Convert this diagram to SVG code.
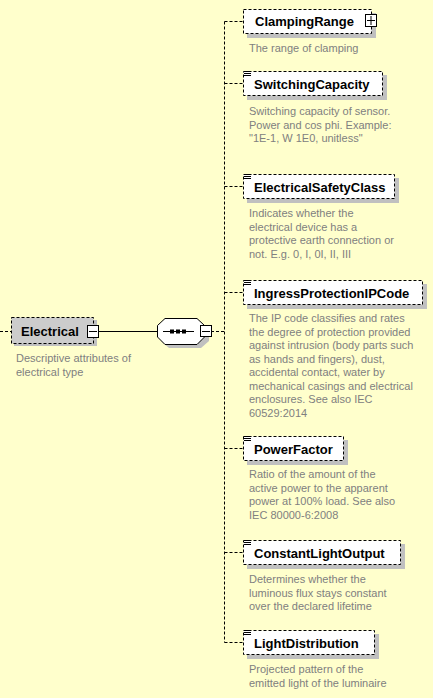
<svg xmlns="http://www.w3.org/2000/svg" width="433" height="698" viewBox="0 0 433 698">
<style>
.bg{fill:#FFFFCC}
.shadow{fill:#C0C0C0}
.box{fill:#FFFFFF;stroke:#000;stroke-width:1;stroke-dasharray:3,2}
.gbox{fill:#CCCCCC;stroke:#000;stroke-width:1;stroke-dasharray:3,2}
.name{font-family:"Liberation Sans",Arial,sans-serif;font-weight:bold;font-size:13px;fill:#000}
.desc{font-family:"Liberation Sans",Arial,sans-serif;font-size:11px;fill:#808080}
.dash{fill:none;stroke:#000;stroke-width:1;stroke-dasharray:3,2}
.solid{fill:none;stroke:#000;stroke-width:1}
.btn{fill:#FFFFFF;stroke:#000;stroke-width:1}
.icon{stroke:#000;stroke-width:1}
</style>
<defs>
<g id="ico"><path class="icon" d="M244 0.5h7M244 2.5h7M244 4.5h7"/></g>
</defs>
<rect class="bg" x="0" y="0" width="433" height="698"/>

<g id="connectors">
<path class="dash" d="M0 331.5H11"/>
<path class="solid" d="M99 331.5H157"/>
<path class="dash" d="M211 331.5H224.5"/>
<path class="dash" d="M224.5 21.5V642.5"/>
<path class="dash" d="M224.5 21.5H243M224.5 83.5H243M224.5 186.5H243M224.5 292.5H243M224.5 448.5H243M224.5 552.5H243M224.5 642.5H243"/>
</g>

<g id="Electrical">
<rect class="shadow" x="14" y="320" width="83" height="26"/>
<rect class="gbox" x="11.5" y="317.5" width="82" height="26"/>
<text class="name" x="21" y="336">Electrical</text>
<rect class="btn" x="87.5" y="325.5" width="11" height="12"/>
<path class="solid" d="M89 331.5H97"/>
<text class="desc" x="16" y="362">Descriptive attributes of</text>
<text class="desc" x="16" y="375.5">electrical type</text>
</g>

<g id="sequence">
<polygon class="shadow" points="169,322 201,322 209,330 209,341 201,348 169,348 161,341 161,330"/>
<polygon class="btn" points="165,318.5 197,318.5 204.5,325.5 204.5,337 197,344.5 165,344.5 157.5,337 157.5,325.5"/>
<path class="solid" d="M163 331.5H194"/>
<rect x="170" y="329.5" width="4" height="4" fill="#000"/>
<rect x="176" y="329.5" width="4" height="4" fill="#000"/>
<rect x="182" y="329.5" width="4" height="4" fill="#000"/>
<rect class="btn" x="200.5" y="325.5" width="11" height="11"/>
<path class="solid" d="M202 331.5H210"/>
</g>

<g id="ClampingRange">
<rect class="shadow" x="247" y="13" width="129" height="25"/>
<rect class="box" x="243.5" y="9.5" width="128" height="24"/>
<text class="name" x="255" y="26">ClampingRange</text>
<rect class="btn" x="365.5" y="14.5" width="11" height="12"/>
<path class="solid" d="M367 20.5H375M371 16V25"/>
<text class="desc" x="249" y="52">The range of clamping</text>
</g>

<g id="SwitchingCapacity">
<rect class="shadow" x="247" y="75" width="140" height="25"/>
<rect class="box" x="243.5" y="71.5" width="139" height="24"/>
<use href="#ico" y="71"/>
<text class="name" x="254" y="89">SwitchingCapacity</text>
<text class="desc" x="249" y="115">Switching capacity of sensor.</text>
<text class="desc" x="249" y="128.5">Power and cos phi. Example:</text>
<text class="desc" x="249" y="142">"1E-1, W 1E0, unitless"</text>
</g>

<g id="ElectricalSafetyClass">
<rect class="shadow" x="247" y="178" width="152" height="25"/>
<rect class="box" x="243.5" y="174.5" width="151" height="24"/>
<use href="#ico" y="174"/>
<text class="name" x="254" y="192">ElectricalSafetyClass</text>
<text class="desc" x="249" y="217">Indicates whether the</text>
<text class="desc" x="249" y="230.5">electrical device has a</text>
<text class="desc" x="249" y="244">protective earth connection or</text>
<text class="desc" x="249" y="257.5">not. E.g. 0, I, 0I, II, III</text>
</g>

<g id="IngressProtectionIPCode">
<rect class="shadow" x="247" y="284" width="180" height="25"/>
<rect class="box" x="243.5" y="280.5" width="179" height="24"/>
<use href="#ico" y="280"/>
<text class="name" x="254" y="298">IngressProtectionIPCode</text>
<text class="desc" x="249" y="322">The IP code classifies and rates</text>
<text class="desc" x="249" y="335.5">the degree of protection provided</text>
<text class="desc" x="249" y="349">against intrusion (body parts such</text>
<text class="desc" x="249" y="362.5">as hands and fingers), dust,</text>
<text class="desc" x="249" y="376">accidental contact, water by</text>
<text class="desc" x="249" y="389.5">mechanical casings and electrical</text>
<text class="desc" x="249" y="403">enclosures. See also IEC</text>
<text class="desc" x="249" y="416.5">60529:2014</text>
</g>

<g id="PowerFactor">
<rect class="shadow" x="247" y="440" width="101" height="25"/>
<rect class="box" x="243.5" y="436.5" width="100" height="24"/>
<use href="#ico" y="436"/>
<text class="name" x="254" y="454">PowerFactor</text>
<text class="desc" x="249" y="478">Ratio of the amount of the</text>
<text class="desc" x="249" y="491.5">active power to the apparent</text>
<text class="desc" x="249" y="505">power at 100% load. See also</text>
<text class="desc" x="249" y="518.5">IEC 80000-6:2008</text>
</g>

<g id="ConstantLightOutput">
<rect class="shadow" x="247" y="544" width="158" height="25"/>
<rect class="box" x="243.5" y="540.5" width="157" height="24"/>
<use href="#ico" y="540"/>
<text class="name" x="254" y="558">ConstantLightOutput</text>
<text class="desc" x="249" y="583">Determines whether the</text>
<text class="desc" x="249" y="596.5">luminous flux stays constant</text>
<text class="desc" x="249" y="610">over the declared lifetime</text>
</g>

<g id="LightDistribution">
<rect class="shadow" x="247" y="634" width="132" height="25"/>
<rect class="box" x="243.5" y="630.5" width="131" height="24"/>
<use href="#ico" y="630"/>
<text class="name" x="254" y="648">LightDistribution</text>
<text class="desc" x="249" y="673">Projected pattern of the</text>
<text class="desc" x="249" y="686.5">emitted light of the luminaire</text>
</g>
</svg>
